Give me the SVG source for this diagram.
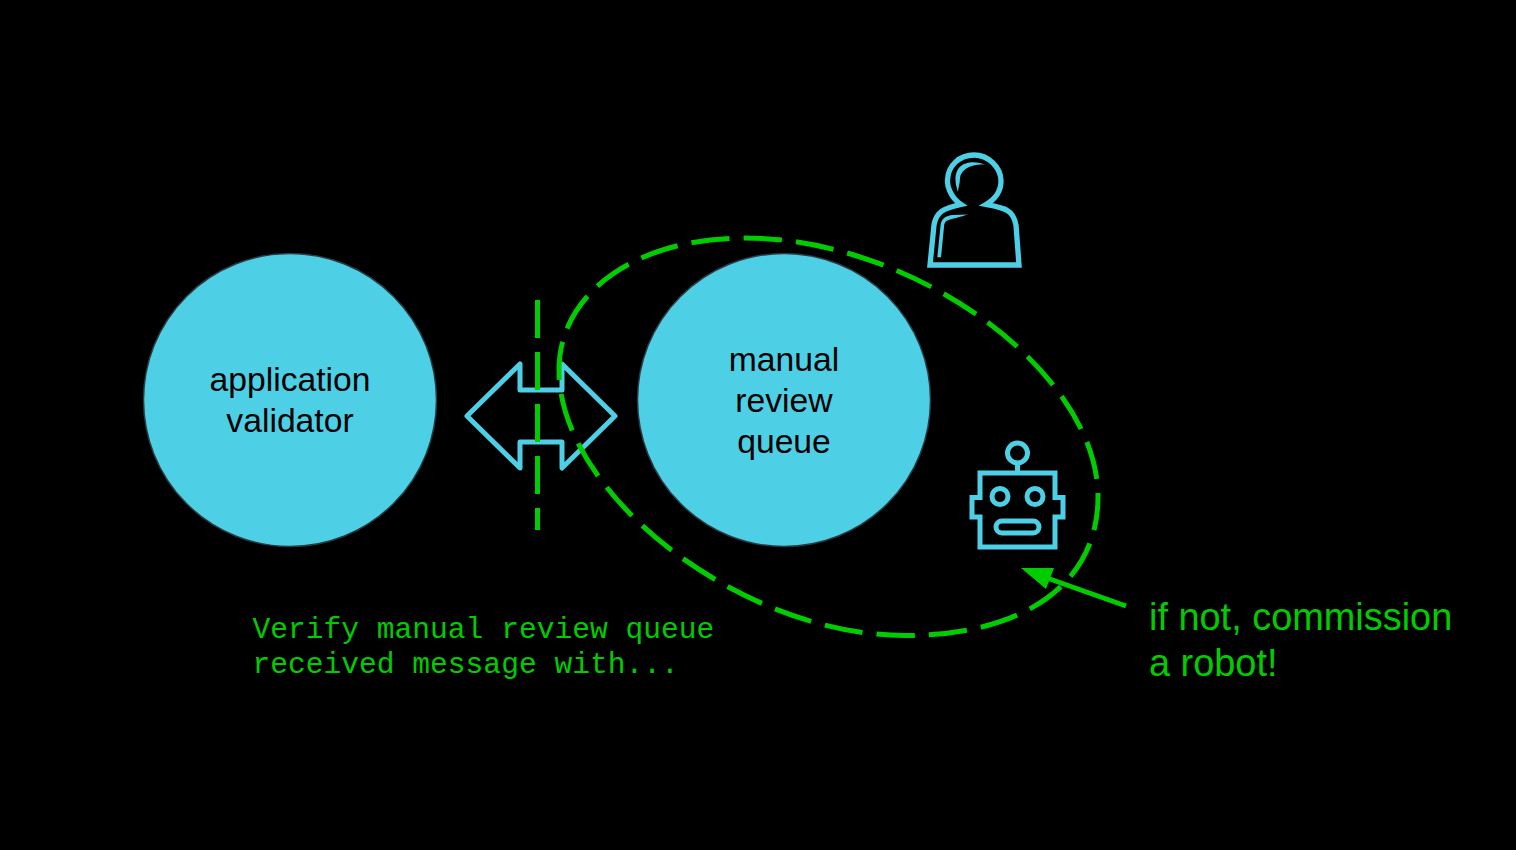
<svg xmlns="http://www.w3.org/2000/svg" width="1516" height="850" viewBox="0 0 1516 850">
<style>
.node{fill:#4dd0e5;stroke:#2a3a40;stroke-width:1.5}
.lbl{font-family:"Liberation Sans",Arial,sans-serif;font-size:33.7px;fill:#000;text-anchor:middle}
.ico{fill:none;stroke:#4dd0e5;stroke-width:5;stroke-linejoin:miter}
.dash{fill:none;stroke:#00cc00;stroke-width:5;stroke-dasharray:38 14}
.note{font-family:"Liberation Sans",Arial,sans-serif;font-size:37.9px;fill:#00cc00}
.mono{font-family:"Liberation Mono","Courier New",monospace;font-size:29.6px;fill:#00cc00}
</style>
<rect width="1516" height="850" fill="#000"/>
<g id="application-validator">
<circle class="node" cx="290" cy="400" r="146.500"/>
<text class="lbl" x="290" y="391">application</text>
<text class="lbl" x="290" y="432">validator</text>
</g>
<g id="manual-review-queue">
<circle class="node" cx="784" cy="400" r="146.500"/>
<text class="lbl" x="784" y="371">manual</text>
<text class="lbl" x="784" y="412">review</text>
<text class="lbl" x="784" y="453">queue</text>
</g>
<g id="double-arrow">
<path class="ico" style="stroke-linejoin:round" d="M467 416L520 364V390H562V364L615 416L562 468V442H520V468Z"/>
</g>
<g id="person">
<path class="ico" style="stroke-width:5.300" d="M930 265L934 225C936 212 944 208 961 204.500C950 197 947 185 947.500 180C948 165 960 155 974 155C988 155 1001 167 1001 181C1001 190 997 198 986 204.500C1004 208 1013 209 1016 225L1019 265Z"/>
<path d="M937.300 257.300L940.500 226C941 219 945 216 952 215L968 214.500C960 217 955 218 950 219.500C946 220.500 944.500 222 944 227L941 257.300Z" fill="#4dd0e5"/>
<path d="M986 165C975 160 955 160 955.500 180C955.500 184 957 189 958 192C958 188 960 184 960 178C961 168 975 163 986 165Z" fill="#4dd0e5"/>
</g>
<g id="robot">
<path class="ico" d="M980 473H1055V497.500H1063V517H1055V547H980V517H972V497.500H980Z"/>
<circle class="ico" cx="1017.500" cy="453" r="10"/>
<path class="ico" d="M1017.500 463V473"/>
<circle class="ico" cx="1000" cy="496.500" r="8"/>
<circle class="ico" cx="1035" cy="496.500" r="8"/>
<rect class="ico" x="996" y="521" width="43" height="12" rx="6"/>
</g>
<g id="connectors">
<path class="dash" style="stroke-dasharray:38.300 14.150" stroke-dashoffset="5" d="M1098 497C1098 583 1025 635.500 905 635.500C742 635.500 559 495 559 370C559 293 636 238 745 238C915 238 1098 372 1098 497Z"/>
<path class="dash" d="M537.500 300V530"/>
<path d="M1126 606L1047 578" stroke="#00cc00" stroke-width="5" fill="none"/>
<polygon points="1021,568 1054,568 1046,589" fill="#00cc00"/>
</g>
<g id="labels">
<text class="mono" x="252.500" y="638">Verify manual review queue</text>
<text class="mono" x="252.500" y="673">received message with...</text>
<text class="note" x="1149" y="630">if not, commission</text>
<text class="note" x="1149" y="676">a robot!</text>
</g>
</svg>
